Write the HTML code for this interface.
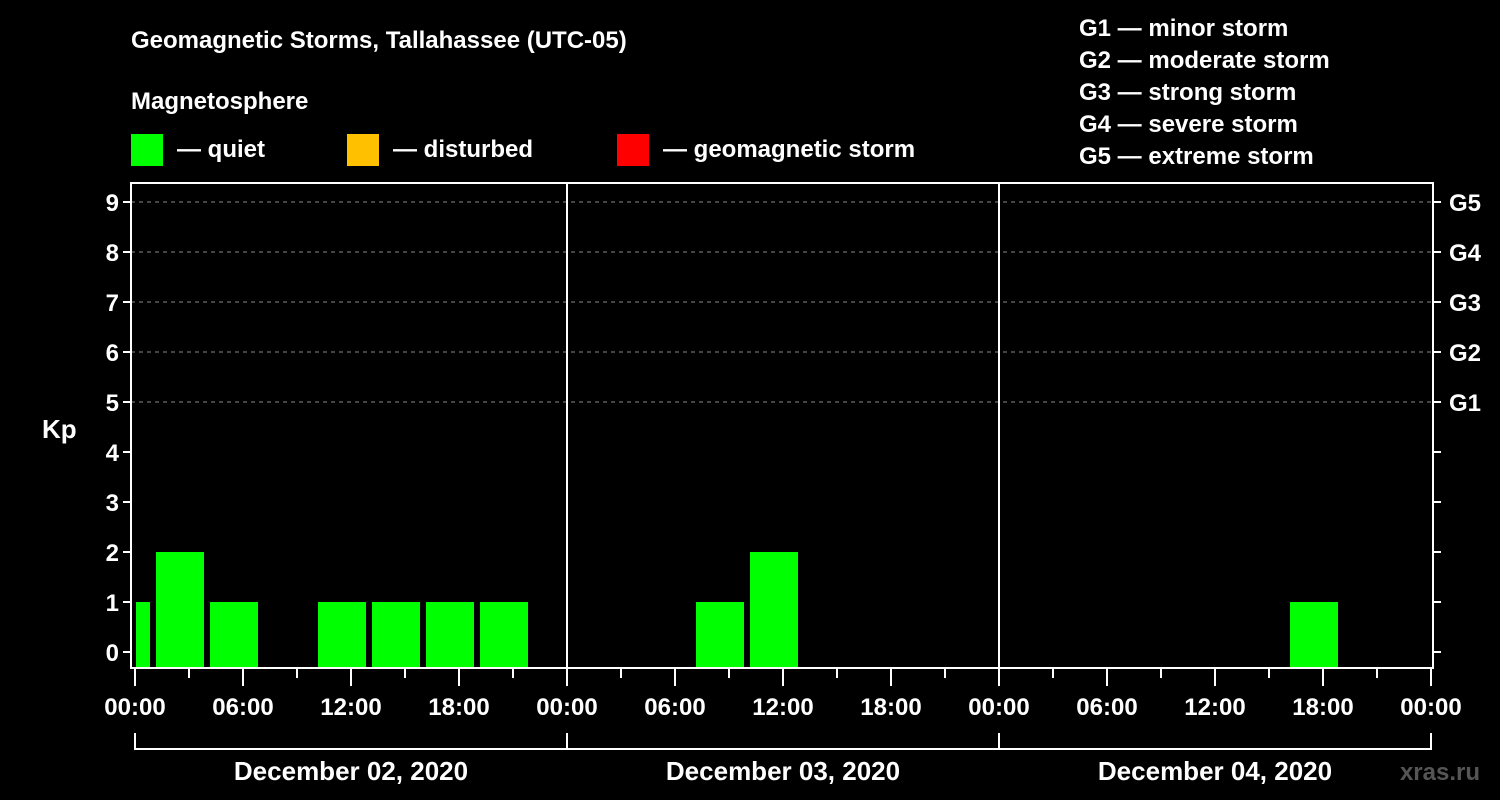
<!DOCTYPE html>
<html><head><meta charset="utf-8"><style>
body{margin:0;background:#000;}
svg{display:block;font-family:"Liberation Sans",Arial,sans-serif;font-weight:bold;}
</style></head><body>
<svg id="c" width="1500" height="800">
<rect width="1500" height="800" fill="#000"/>
<text x="131" y="48" fill="#fff" font-size="24">Geomagnetic Storms, Tallahassee (UTC-05)</text>
<text x="131" y="109" fill="#fff" font-size="24">Magnetosphere</text>
<g><rect x="131" y="134" width="32" height="32" fill="#00ff00"/><text x="177" y="157" fill="#fff" font-size="24">— quiet</text></g>
<g><rect x="347" y="134" width="32" height="32" fill="#ffc000"/><text x="393" y="157" fill="#fff" font-size="24">— disturbed</text></g>
<g><rect x="617" y="134" width="32" height="32" fill="#ff0000"/><text x="663" y="157" fill="#fff" font-size="24">— geomagnetic storm</text></g>
<g fill="#fff" font-size="24">
<text x="1079" y="36">G1 — minor storm</text>
<text x="1079" y="68">G2 — moderate storm</text>
<text x="1079" y="100">G3 — strong storm</text>
<text x="1079" y="132">G4 — severe storm</text>
<text x="1079" y="164">G5 — extreme storm</text>
</g>
<text x="42" y="438" fill="#fff" font-size="26">Kp</text>
<text x="1480" y="780" fill="#555" font-size="24" text-anchor="end">xras.ru</text>
<g id="plot"></g>
</svg>
<script>
const kpHours=[-2,1,4,10,13,16,19,31,34,64];
const kpValues=[1,2,1,1,1,1,1,1,2,1];
const yTicks=[0,1,2,3,4,5,6,7,8,9];
const gLabels=["G1","G2","G3","G4","G5"];
const gLevels=[5,6,7,8,9];
const dayLabels=["December 02, 2020","December 03, 2020","December 04, 2020"];
const hourLabels=["00:00","06:00","12:00","18:00"];

const NS="http://www.w3.org/2000/svg";
const L=131,R=1433,T=183,B=668;
const x=h=>135+h*18;
const y=v=>652-v*50;
const g=document.getElementById('plot');
function mk(t,a,p){const e=document.createElementNS(NS,t);for(const k in a)e.setAttribute(k,a[k]);(p||g).appendChild(e);return e;}

// grid
gLevels.forEach(v=>{
 const e=mk('line',{x1:L,x2:R,y1:y(v),y2:y(v),stroke:'#888','stroke-dasharray':'4,4','stroke-width':1});
 
 
});
// bars
kpHours.forEach((h,i)=>{
 const v=kpValues[i];
 let x1=Math.max(x(h)+3,L+5),x2=Math.min(x(h+3)-3,R);
 const col=v>=5?'#ff0000':(v>=4?'#ffc000':'#00ff00');
 const e=mk('rect',{x:x1,y:y(v),width:x2-x1,height:B-y(v),fill:col});
 
 
});
// frame
mk('rect',{x:L,y:T,width:R-L,height:B-T,fill:'none',stroke:'#fff','stroke-width':2});
[1,2].forEach(d=>{const e=mk('line',{x1:x(d*24),x2:x(d*24),y1:T,y2:B,stroke:'#fff','stroke-width':2});
 
 });
// y ticks
yTicks.forEach(v=>{
 mk('line',{x1:L-8,x2:L,y1:y(v),y2:y(v),stroke:'#fff','stroke-width':2});
 mk('line',{x1:R,x2:R+8,y1:y(v),y2:y(v),stroke:'#fff','stroke-width':2});
 const t=mk('text',{x:L-12,y:y(v)+9,fill:'#fff','font-size':24,'text-anchor':'end'});t.textContent=v;
 
 
});
gLabels.forEach((s,i)=>{
 const t=mk('text',{x:1449,y:y(gLevels[i])+9,fill:'#fff','font-size':24});t.textContent=s;
 
 
});
// x ticks
for(let h=0;h<=72;h+=3){
 const major=h%6===0;
 mk('line',{x1:x(h),x2:x(h),y1:B,y2:major?686:678,stroke:'#fff','stroke-width':2});
 if(major){const t=mk('text',{x:x(h),y:715,fill:'#fff','font-size':24,'text-anchor':'middle'});
  t.textContent=hourLabels[(h/6)%4];
  
  }
}
// day brackets
mk('line',{x1:x(0),x2:x(72),y1:749,y2:749,stroke:'#fff','stroke-width':2});
for(let d=0;d<=3;d++)mk('line',{x1:x(d*24),x2:x(d*24),y1:733,y2:750,stroke:'#fff','stroke-width':2});
dayLabels.forEach((s,d)=>{
 const t=mk('text',{x:x(d*24+12),y:780,fill:'#fff','font-size':26,'text-anchor':'middle'});t.textContent=s;
 
 
});
</script>
</body></html>
